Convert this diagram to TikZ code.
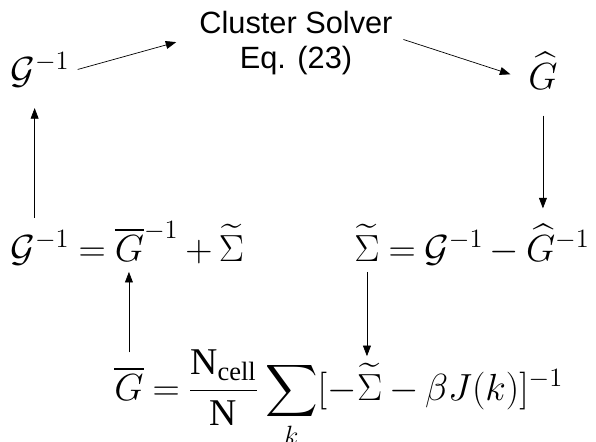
\RequirePackage{fix-cm}
\documentclass[tikz,border=0pt]{standalone}
\usepackage{exscale}
\usepackage{fontspec}
\setmainfont{Liberation Serif}
\newfontfamily\solverfont{Liberation Sans}
\usetikzlibrary{arrows.meta}
\newcommand\eqfont{\fontsize{21.5}{26}\selectfont\thickmuskip=4mu\relax\medmuskip=3mu\relax}
\tikzset{
  eq/.style={inner sep=0pt,anchor=base west,font=\eqfont},
  solverbox/.style={inner sep=0pt,align=center,font=\solverfont\fontsize{17.5}{20}\selectfont}
}

\begin{document}
\begin{tikzpicture}[x=0.02cm,y=0.02cm,>={Triangle[length=6pt,width=4.5pt]}]
    \useasboundingbox (0,0) rectangle (596,441);

    % Top row
    \node[eq] (ginv) at (10,358) {$\mathcal{G}^{-1}$};
    \node[solverbox] (solver) at (296,398) {Cluster Solver\\Eq. (23)};
    \node[eq] (ghat) at (528,352) {$\widehat{G}$};

    % Left equation
    \node[eq] (lG) at (10,180) {$\mathcal{G}^{-1}$};
    \node[eq] (leq) at (lG.base east) {${}={}$};
    \node[eq] (lGbar) at (leq.base east) {$\overline{G}^{-1}$};
    \node[eq] (lSig) at (lGbar.base east) {${}+\widetilde{\Sigma}$};

    % Right equation
    \node[eq] (rSig) at (354,180) {$\widetilde{\Sigma}$};
    \node[eq] (req) at (rSig.base east) {${}=\mathcal{G}^{-1}-{}$};
    \node[eq] (rGhat) at (req.base east) {$\widehat{G}^{-1}$};

    % Bottom equation
    \node[eq] (bGbar) at (114,41) {$\overline{G}$};
    \node[eq] (bsum) at (bGbar.base east) {$\displaystyle{}=\frac{\mathrm{N}_{\mathrm{cell}}}{\mathrm{N}}\sum_k[-$};
    \node[eq] (bSig) at (bsum.base east) {$\widetilde{\Sigma}$};
    \node[eq] (brest) at (bSig.base east) {${}-\beta J(k)]^{-1}$};

    % Arrows
    \draw[->] ([xshift=4.5pt]ginv.east) -- ([xshift=-13pt,yshift=0.5pt]solver.west);
    \draw[->] ([xshift=6pt,yshift=2pt]solver.east) -- ([xshift=-10pt,yshift=-2pt]ghat.west);
    \draw[->,shorten <=15pt,shorten >=9pt] (ghat.south) -- (ghat.south |- rGhat.north);
    \draw[->,shorten <=7pt,shorten >=12pt] ([xshift=-3pt]lG.north) -- ([xshift=-3pt]ginv.south);
    \draw[->,shorten <=8pt,shorten >=6pt] (bGbar.north) -- (bGbar.north |- lGbar.south);
    \draw[->,shorten <=6pt,shorten >=4pt] (rSig.south) -- (rSig.south |- bSig.north);
\end{tikzpicture}
\end{document}
